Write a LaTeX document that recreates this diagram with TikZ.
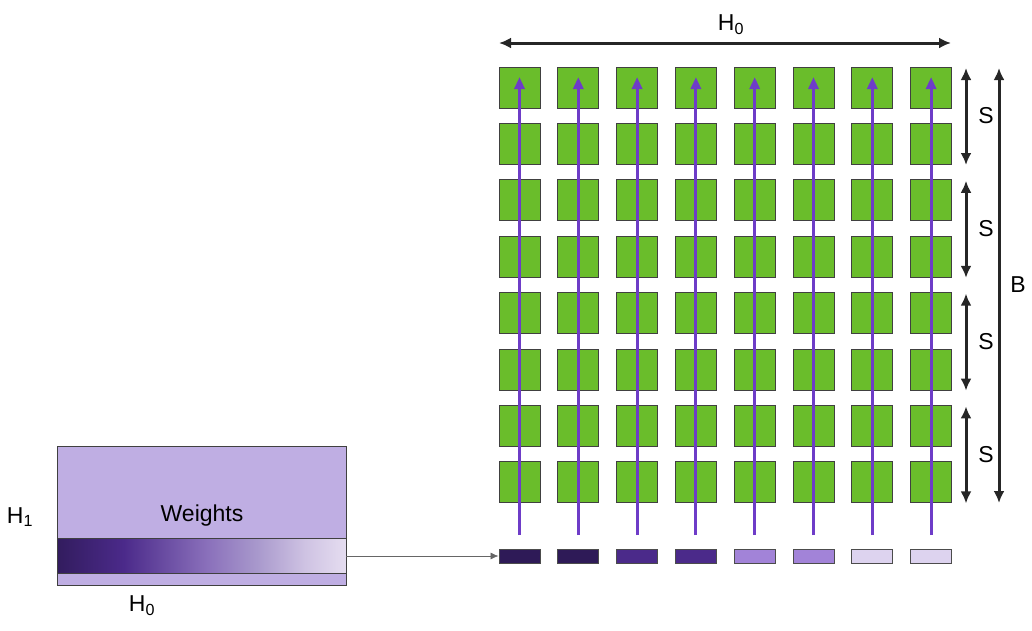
\documentclass[tikz,border=0pt]{standalone}
\usepackage{fontspec}
\setmainfont{Liberation Sans}
\usepackage{xcolor}
\usetikzlibrary{arrows.meta,positioning,calc}

\definecolor{cellgreen}{HTML}{6ABD2B}
\definecolor{wlight}{HTML}{BFAEE3}
\definecolor{flowpurple}{HTML}{6E3CC8}
\definecolor{wdark}{HTML}{2E1A57}
\definecolor{wmid}{HTML}{4B2A8A}
\definecolor{wsoft}{HTML}{A283D8}
\definecolor{wpale}{HTML}{DDD3EF}
\definecolor{fadeA}{HTML}{321C5E}
\definecolor{fadeB}{HTML}{4B2A8A}
\definecolor{fadeC}{HTML}{8A70BB}
\definecolor{fadeD}{HTML}{A898CC}
\definecolor{fadeE}{HTML}{CFC3E3}
\definecolor{fadeF}{HTML}{E5DDF0}

\pgfdeclarehorizontalshading{weightfade}{100bp}{
  color(0bp)=(fadeA); color(25bp)=(fadeA); color(36.5bp)=(fadeB);
  color(51bp)=(fadeC); color(59.5bp)=(fadeD); color(68bp)=(fadeE);
  color(75bp)=(fadeF); color(100bp)=(fadeF)}

\begin{document}
\begin{tikzpicture}[
  x=1pt, y=-1pt,
  font=\fontsize{23}{27}\selectfont,
  cell/.style={draw=black!75, fill=cellgreen, line width=1pt, minimum size=41pt, inner sep=0pt},
  bar/.style={draw=black!70, line width=1pt, minimum width=41pt, minimum height=14pt, inner sep=0pt},
  flow/.style={-{Triangle[length=12pt,width=10pt]}, line width=3pt, flowpurple},
  dim/.style={{Latex[length=12pt,width=11pt]}-{Latex[length=12pt,width=11pt]}, line width=3pt, black!85},
  feed/.style={-{Latex[length=8pt,width=7pt]}, line width=0.7pt, black!60},
  lbl/.style={inner sep=0pt}
]
  \useasboundingbox (0,0) rectangle (1032,630);

  % weight matrix
  \node[draw=black!75, fill=wlight, line width=1pt, minimum width=289pt, minimum height=139pt, inner sep=0pt] (weights) at (201.5,515.5) {};
  \shade[shading=weightfade] (57,538) rectangle (346,573);
  \draw[black!75, line width=1pt] (57,538) rectangle (346,573);
  \coordinate (strip_out) at (346,556);
  \node[lbl] (w_txt) at (202,516) {Weights};
  \node[lbl] (h1_txt) at (20,517) {H\textsubscript{1}};
  \node[lbl] (h0_low) at (142,606) {H\textsubscript{0}};

  % activation grid, one column per output
  \foreach \c in {0,...,7} {
    \foreach \r in {0,...,7}
      \node[cell] (cell-\c-\r) at (519.5+58.8*\c, 87.5+56.4*\r) {};
    \coordinate (src-\c) at (519.5+58.8*\c, 535);
    \coordinate (dst-\c) at (519.5+58.8*\c, 77);
    \draw[flow] (src-\c) -- (dst-\c);
  }

  % broadcast weights
  \foreach \c/\col in {0/wdark,1/wdark,2/wmid,3/wmid,4/wsoft,5/wsoft,6/wpale,7/wpale}
    \node[bar, fill=\col] (bar-\c) at (519.5+58.8*\c, 556) {};
  \draw[feed] (strip_out) -- (bar-0.west);

  % dimensions
  \coordinate (top_l) at (499,43);
  \coordinate (top_r) at (951,43);
  \draw[dim] (top_l) -- (top_r);
  \node[lbl] (h0_top) at (731,25) {H\textsubscript{0}};

  \foreach \k in {0,...,3} {
    \coordinate (s_top-\k) at (966, 68+112.8*\k);
    \coordinate (s_bot-\k) at (966, 165+112.8*\k);
    \draw[dim] (s_top-\k) -- (s_bot-\k);
    \node[lbl] (s_txt-\k) at (986, 116+112.8*\k) {S};
  }
  \coordinate (b_top) at (999,68);
  \coordinate (b_bot) at (999,503);
  \draw[dim] (b_top) -- (b_bot);
  \node[lbl] (b_txt) at (1018,285) {B};
\end{tikzpicture}
\end{document}
